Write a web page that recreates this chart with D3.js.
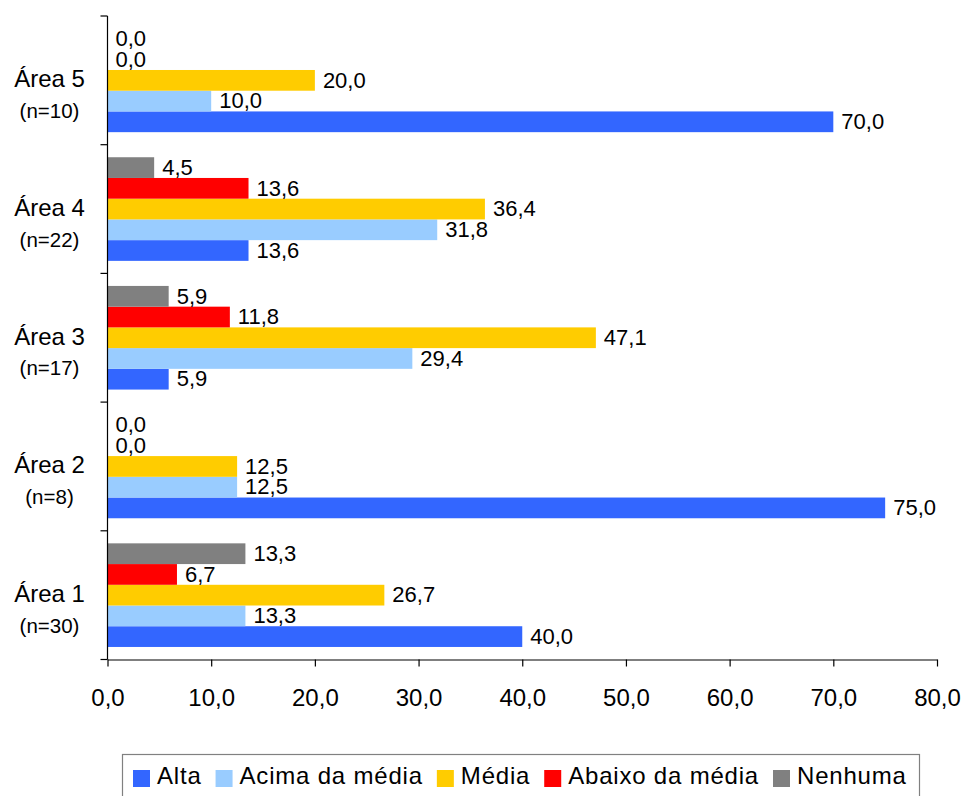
<!DOCTYPE html>
<html>
<head>
<meta charset="utf-8">
<script src="https://cdn.jsdelivr.net/npm/d3@7"></script>
<style>
  html, body { margin: 0; padding: 0; background: #fff; }
  svg { display: block; font-family: "Liberation Sans", Arial, sans-serif; }
</style>
</head>
<body>
<svg id="chart" width="965" height="796"></svg>
<script>
// Categories (bottom to top) and their sample sizes
const categories = ["Área 1", "Área 2", "Área 3", "Área 4", "Área 5"];
const sampleLabels = ["(n=30)", "(n=8)", "(n=17)", "(n=22)", "(n=10)"];

// Series, in legend order
const seriesNames = ["Alta", "Acima da média", "Média", "Abaixo da média", "Nenhuma"];
const seriesColors = ["#3366FF", "#99CCFF", "#FFCC00", "#FF0000", "#808080"];

// Percentages per category (Área 1 .. Área 5)
const alta = [40.0, 75.0, 5.9, 13.6, 70.0];
const acimaDaMedia = [13.3, 12.5, 29.4, 31.8, 10.0];
const media = [26.7, 12.5, 47.1, 36.4, 20.0];
const abaixoDaMedia = [6.7, 0.0, 11.8, 13.6, 0.0];
const nenhuma = [13.3, 0.0, 5.9, 4.5, 0.0];

// X axis ticks
const xTicks = [0, 10, 20, 30, 40, 50, 60, 70, 80];

const seriesValues = [alta, acimaDaMedia, media, abaixoDaMedia, nenhuma];
const fmt = v => d3.format(".1f")(v).replace(".", ",");

const svg = d3.select("#chart");
const plot = { left: 107.5, right: 937, top: 16, bottom: 659.5 };

const x = d3.scaleLinear().domain([0, 80]).range([plot.left, plot.right]);

// Área 5 at the top
const y = d3.scaleBand()
  .domain(categories.slice().reverse())
  .range([plot.top, plot.bottom])
  .padding(0);

// Within each group: Nenhuma on top, Alta at the bottom
const yInner = d3.scaleBand()
  .domain(seriesNames.slice().reverse())
  .range([0, y.bandwidth()])
  .paddingInner(0)
  .paddingOuter(0.605);

// Bars
const rows = [];
categories.forEach((c, ci) => {
  seriesNames.forEach((s, si) => {
    rows.push({ cat: c, series: s, color: seriesColors[si], value: seriesValues[si][ci] });
  });
});

const g = svg.append("g");

g.selectAll("rect.bar")
  .data(rows)
  .join("rect")
  .attr("class", "bar")
  .attr("x", x(0))
  .attr("y", d => y(d.cat) + yInner(d.series))
  .attr("width", d => x(d.value) - x(0))
  .attr("height", yInner.bandwidth())
  .attr("fill", d => d.color);

// Value labels
g.selectAll("text.val")
  .data(rows)
  .join("text")
  .attr("class", "val")
  .attr("x", d => x(d.value) + 8)
  .attr("y", d => y(d.cat) + yInner(d.series) + yInner.bandwidth() / 2)
  .attr("dy", "0.33em")
  .attr("font-size", 22)
  .attr("fill", "#000")
  .text(d => fmt(d.value));

// X axis
const xAxis = d3.axisBottom(x)
  .tickValues(xTicks)
  .tickFormat(fmt)
  .tickSize(7)
  .tickSizeOuter(0)
  .tickPadding(22);

const xg = svg.append("g")
  .attr("transform", `translate(0,${plot.bottom})`)
  .call(xAxis);
xg.select(".domain").attr("stroke", "#000").attr("stroke-width", 1.2);
xg.selectAll(".tick line").attr("stroke", "#000").attr("stroke-width", 1.2);
xg.selectAll(".tick text")
  .attr("font-size", 24)
  .attr("font-family", "'Liberation Sans', Arial, sans-serif")
  .attr("fill", "#000");

// Y axis: line with ticks at group boundaries
const yg = svg.append("g");
yg.append("line")
  .attr("x1", plot.left).attr("x2", plot.left)
  .attr("y1", plot.top).attr("y2", plot.bottom)
  .attr("stroke", "#000").attr("stroke-width", 1.2);

const boundaries = y.domain().map(c => y(c)).concat([y(y.domain()[y.domain().length - 1]) + y.bandwidth()]);
yg.selectAll("line.ytick")
  .data(boundaries)
  .join("line")
  .attr("class", "ytick")
  .attr("x1", plot.left - 7).attr("x2", plot.left)
  .attr("y1", d => d).attr("y2", d => d)
  .attr("stroke", "#000").attr("stroke-width", 1.2);

// Category labels
const catG = yg.selectAll("g.cat")
  .data(categories.map((c, i) => ({ c, n: sampleLabels[i] })))
  .join("g")
  .attr("class", "cat")
  .attr("transform", d => `translate(49.5,${y(d.c) + y.bandwidth() / 2})`);

catG.append("text")
  .attr("text-anchor", "middle")
  .attr("y", 7)
  .attr("font-size", 24)
  .attr("fill", "#000")
  .text(d => d.c);

catG.append("text")
  .attr("text-anchor", "middle")
  .attr("y", 37.5)
  .attr("font-size", 20.5)
  .attr("fill", "#000")
  .text(d => d.n);

// Legend
const legend = svg.append("g");
legend.append("rect")
  .attr("x", 122.5).attr("y", 754.5)
  .attr("width", 797).attr("height", 60)
  .attr("fill", "#fff")
  .attr("stroke", "#808080").attr("stroke-width", 1.2);

let lx = 133;
seriesNames.forEach((s, i) => {
  legend.append("rect")
    .attr("x", lx).attr("y", 770)
    .attr("width", 17).attr("height", 17)
    .attr("fill", seriesColors[i]);
  const t = legend.append("text")
    .attr("x", lx + 24).attr("y", 784)
    .attr("font-size", 24)
    .attr("letter-spacing", "0.8px")
    .attr("fill", "#000")
    .text(s);
  lx = lx + 24 + t.node().getComputedTextLength() + 14;
});
</script>
</body>
</html>
